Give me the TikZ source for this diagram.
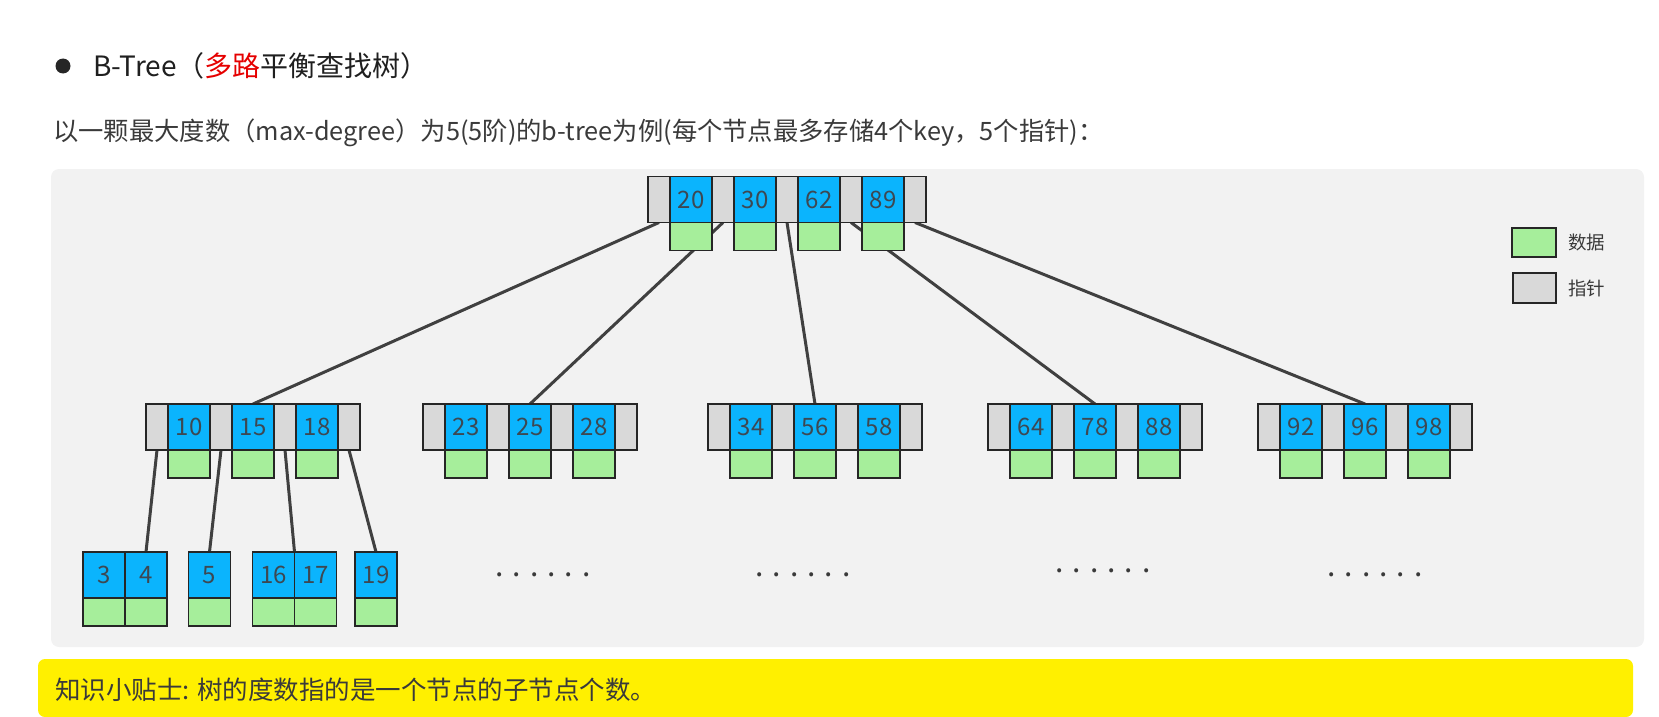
\documentclass[tikz,border=0pt]{standalone}
\usepackage{fontspec}
\setmainfont{Noto Sans CJK SC}
\usetikzlibrary{positioning, backgrounds}

\definecolor{keyblue}{HTML}{0BB4FD}
\definecolor{datagreen}{HTML}{A6EE9B}
\definecolor{ptrgrey}{HTML}{D9D9D9}
\definecolor{panelgrey}{HTML}{F2F2F2}
\definecolor{tipyellow}{HTML}{FFF000}
\definecolor{linkgrey}{HTML}{404040}
\definecolor{textgrey}{HTML}{3A3A3A}
\definecolor{keytext}{HTML}{3D4852}
\definecolor{hotred}{HTML}{E50000}

\begin{document}
\begin{tikzpicture}[
    x=1pt, y=-1pt,
    cell/.style={
        rectangle, draw=black!85, line width=1.2pt,
        inner sep=0pt, outer sep=0pt, minimum height=46pt
    },
    ptr/.style={cell, fill=ptrgrey, minimum width=22pt},
    key/.style={
        cell, fill=keyblue, minimum width=42pt,
        text=keytext, font=\fontsize{24}{28}\selectfont
    },
    data/.style={cell, fill=datagreen, minimum width=42pt, minimum height=28pt},
    link/.style={linkgrey, line width=3pt},
    dots/.style={text=textgrey, font=\fontsize{30}{30}\selectfont},
    legend/.style={text=textgrey, inner sep=0pt, font=\fontsize{18.5}{22}\selectfont},
]

\useasboundingbox (0,0) rectangle (1659,717);

\node[circle, fill=black!85, minimum size=15pt, inner sep=0pt] (bullet) at (63,66) {};
\node[anchor=west, text=black!88, inner sep=0pt, font=\fontsize{28}{32}\selectfont] (title) at (93,66)
    {B-Tree（\textcolor{hotred}{多路}平衡查找树）};
\node[anchor=west, text=textgrey, inner sep=0pt, font=\fontsize{25.3}{30}\selectfont] (intro) at (53,133)
    {以一颗最大度数（max-degree）为5(5阶)的b-tree为例(每个节点最多存储4个key，5个指针)：};

\node[ptr] (r-p2) at (787,199.5) {};
\node[key, left=0pt of r-p2] (r-k2) {30};
\node[ptr, left=0pt of r-k2] (r-p1) {};
\node[key, left=0pt of r-p1] (r-k1) {20};
\node[ptr, left=0pt of r-k1] (r-p0) {};
\node[key, right=0pt of r-p2] (r-k3) {62};
\node[ptr, right=0pt of r-k3] (r-p3) {};
\node[key, right=0pt of r-p3] (r-k4) {89};
\node[ptr, right=0pt of r-k4] (r-p4) {};
\foreach \i in {1,...,4}
    \node[data, below=0pt of r-k\i] (r-d\i) {};

\foreach \n/\cx/\ka/\kb/\kc in {a/253/10/15/18, b/530/23/25/28, c/815/34/56/58, d/1095/64/78/88, e/1365/92/96/98} {
    \node[key] (\n-k2) at (\cx,427) {\kb};
    \node[ptr, left=0pt of \n-k2] (\n-p1) {};
    \node[key, left=0pt of \n-p1] (\n-k1) {\ka};
    \node[ptr, left=0pt of \n-k1] (\n-p0) {};
    \node[ptr, right=0pt of \n-k2] (\n-p2) {};
    \node[key, right=0pt of \n-p2] (\n-k3) {\kc};
    \node[ptr, right=0pt of \n-k3] (\n-p3) {};
    \foreach \i in {1,2,3}
        \node[data, below=0pt of \n-k\i] (\n-d\i) {};
}

\node[key] (l3) at (104,575) {3};
\node[key, right=0pt of l3] (l4) {4};
\node[key] (l5) at (209.5,575) {5};
\node[key] (l16) at (273.5,575) {16};
\node[key, right=0pt of l16] (l17) {17};
\node[key] (l19) at (376,575) {19};
\foreach \k in {3,4,5,16,17,19}
    \node[data, below=0pt of l\k] (ld\k) {};

\node[dots] (more-b) at (543,575) {. . . . . .};
\node[dots] (more-c) at (803,575) {. . . . . .};
\node[dots] (more-d) at (1103,571) {. . . . . .};
\node[dots] (more-e) at (1375,575) {. . . . . .};

\node[data, minimum width=44pt, minimum height=29pt] (leg-data) at (1534,242.5) {};
\node[ptr, minimum width=43pt, minimum height=30pt] (leg-ptr) at (1534.5,288) {};
\node[legend, right=12pt of leg-data] (leg-data-txt) {数据};
\node[legend, right=12pt of leg-ptr] (leg-ptr-txt) {指针};

\fill[tipyellow, rounded corners=7pt] (38,659) rectangle (1633,717);
\node[anchor=west, text=textgrey, inner sep=0pt, font=\fontsize{25.5}{30}\selectfont] (tip) at (55,690)
    {知识小贴士: 树的度数指的是一个节点的子节点个数。};

\begin{scope}[on background layer]
    \fill[panelgrey, rounded corners=8pt] (51,169) rectangle (1644,647);
    \foreach \n [count=\i from 0] in {a,b,c,d,e}
        \draw[link] (r-p\i.south) -- (\n-k2.north);
    \draw[link] (a-p0.south) -- (l4.north);
    \draw[link] (a-p1.south) -- (l5.north);
    \draw[link] (a-p2.south) -- (l16.north east);
    \draw[link] (a-p3.south) -- (l19.north);
\end{scope}

\end{tikzpicture}
\end{document}
